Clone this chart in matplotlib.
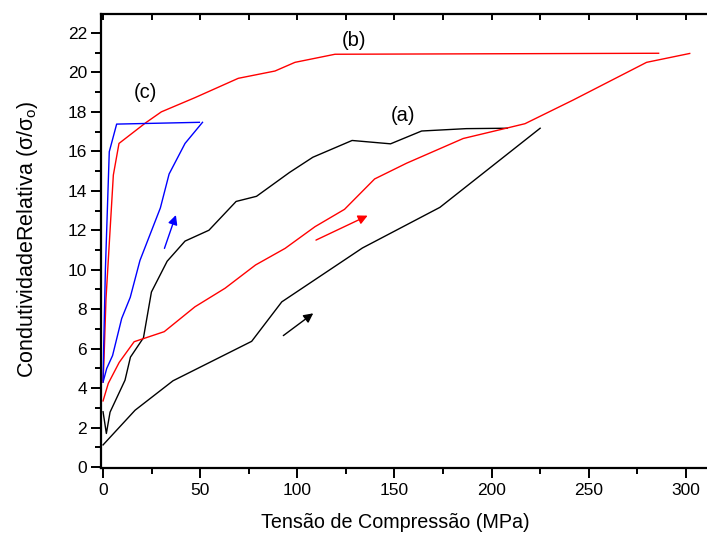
import matplotlib
matplotlib.use("Agg")
import matplotlib.pyplot as plt
from matplotlib.ticker import MultipleLocator

plt.rcParams['font.family'] = ['Liberation Sans', 'DejaVu Sans']

# (a) black loop
a_load_x = [0, 16.5, 36, 76.5, 92, 133.5, 173.4, 225]
a_load_y = [1.12, 2.88, 4.37, 6.37, 8.37, 11.1, 13.16, 17.17]
a_unl_x = [208, 187, 164, 148, 128.2, 108, 96, 79, 68.5, 54.5, 42.2, 33, 24.9, 20.8, 14.1, 11.3, 3.6, 1.7, 0]
a_unl_y = [17.17, 17.15, 17.03, 16.38, 16.55, 15.7, 14.93, 13.72, 13.46, 12.0, 11.45, 10.43, 8.87, 6.55, 5.57, 4.4, 2.78, 1.7, 2.8]

# (b) red loop
b_load_x = [0, 2.7, 8.3, 16.0, 31.5, 47.3, 62.8, 78.5, 93.7, 109.1, 124.3, 139.8, 156.3, 185.4, 207.5, 217.2, 242, 279.8, 302]
b_load_y = [3.35, 4.24, 5.3, 6.35, 6.86, 8.12, 9.06, 10.24, 11.08, 12.18, 13.06, 14.6, 15.4, 16.65, 17.17, 17.4, 18.6, 20.51, 20.96]
b_unl_x = [286, 119.4, 98.8, 88.5, 69.6, 47.3, 30.0, 22.0, 8.2, 5.3, 1.5, 0.5, 0]
b_unl_y = [20.97, 20.92, 20.51, 20.07, 19.7, 18.72, 18.0, 17.45, 16.4, 14.8, 8.5, 5.5, 4.3]

# (c) blue loop
c_load_x = [0, 1.9, 4.9, 9.6, 14.0, 19.0, 29.5, 34.0, 42.2, 51.2]
c_load_y = [4.3, 5.0, 5.65, 7.53, 8.6, 10.47, 13.13, 14.85, 16.4, 17.47]
c_unl_x = [49.6, 7.0, 3.2, 1.2, 0.3, 0]
c_unl_y = [17.47, 17.38, 15.98, 10.0, 6.0, 4.4]

# arrows: tail and tip
arrow_tail_x = [92.8, 109.6, 31.6]
arrow_tail_y = [6.66, 11.5, 11.08]
arrow_tip_x = [108.2, 136.2, 37.5]
arrow_tip_y = [7.79, 12.74, 12.77]
arrow_colors = ['black', 'red', 'blue']

labels = ['(a)', '(b)', '(c)']
label_x = [154.4, 129.2, 21.6]
label_y = [17.8, 21.64, 19.0]

fig = plt.figure(figsize=(7.07, 5.35), dpi=100)
ax = fig.add_axes([101.5/707, (535-468)/535, 1 - 101.5/707, (468-14)/535])

lw = 1.0
ax.plot(a_load_x, a_load_y, color='black', lw=lw)
ax.plot(a_unl_x, a_unl_y, color='black', lw=lw)
ax.plot(b_load_x, b_load_y, color='red', lw=lw)
ax.plot(b_unl_x, b_unl_y, color='red', lw=lw)
ax.plot(c_load_x, c_load_y, color='blue', lw=lw)
ax.plot(c_unl_x, c_unl_y, color='blue', lw=lw)

for tx, ty, hx, hy, c in zip(arrow_tail_x, arrow_tail_y, arrow_tip_x, arrow_tip_y, arrow_colors):
    ax.annotate('', xy=(hx, hy), xytext=(tx, ty),
                arrowprops=dict(arrowstyle='-|>', color=c, lw=1.0,
                                mutation_scale=14, shrinkA=0, shrinkB=0))

for t, x, y in zip(labels, label_x, label_y):
    ax.text(x, y, t, fontsize=14.5, ha='center', va='center')

ax.set_xlim(-0.8, 310.9)
ax.set_ylim(-0.05, 22.96)

ax.xaxis.set_major_locator(MultipleLocator(50))
ax.xaxis.set_minor_locator(MultipleLocator(25))
ax.yaxis.set_major_locator(MultipleLocator(2))
ax.yaxis.set_minor_locator(MultipleLocator(1))

ax.spines['right'].set_visible(False)
for s in ['left', 'bottom', 'top']:
    ax.spines[s].set_linewidth(1.6)

ax.tick_params(axis='x', which='major', direction='out', length=7, width=1.4,
               labelsize=12.5, top=True, pad=4)
ax.tick_params(axis='x', which='minor', direction='out', length=4, width=1.4, top=True)
ax.tick_params(axis='y', which='major', direction='out', length=7, width=1.4, labelsize=12.5, right=False)
ax.tick_params(axis='y', which='minor', direction='out', length=4, width=1.4, right=False)
# top ticks inward
for t in ax.xaxis.get_major_ticks() + ax.xaxis.get_minor_ticks():
    t.tick2line.set_marker(matplotlib.lines.TICKDOWN)
    t.tick2line.set_markersize(4)

ax.set_xlabel('Tensão de Compressão (MPa)', fontsize=14.2)
ax.set_ylabel(r'CondutividadeRelativa (σ/σ$_{\mathregular{o}}$)', fontsize=15.5)
ax.xaxis.label.set_va('center')
ax.yaxis.label.set_va('center')
ax.xaxis.set_label_coords((395 - 101.5) / 605.5, (468 - 522) / 454)
ax.yaxis.set_label_coords((28 - 101.5) / 605.5, (468 - 239) / 454)

fig.savefig('out.png', dpi=100)
